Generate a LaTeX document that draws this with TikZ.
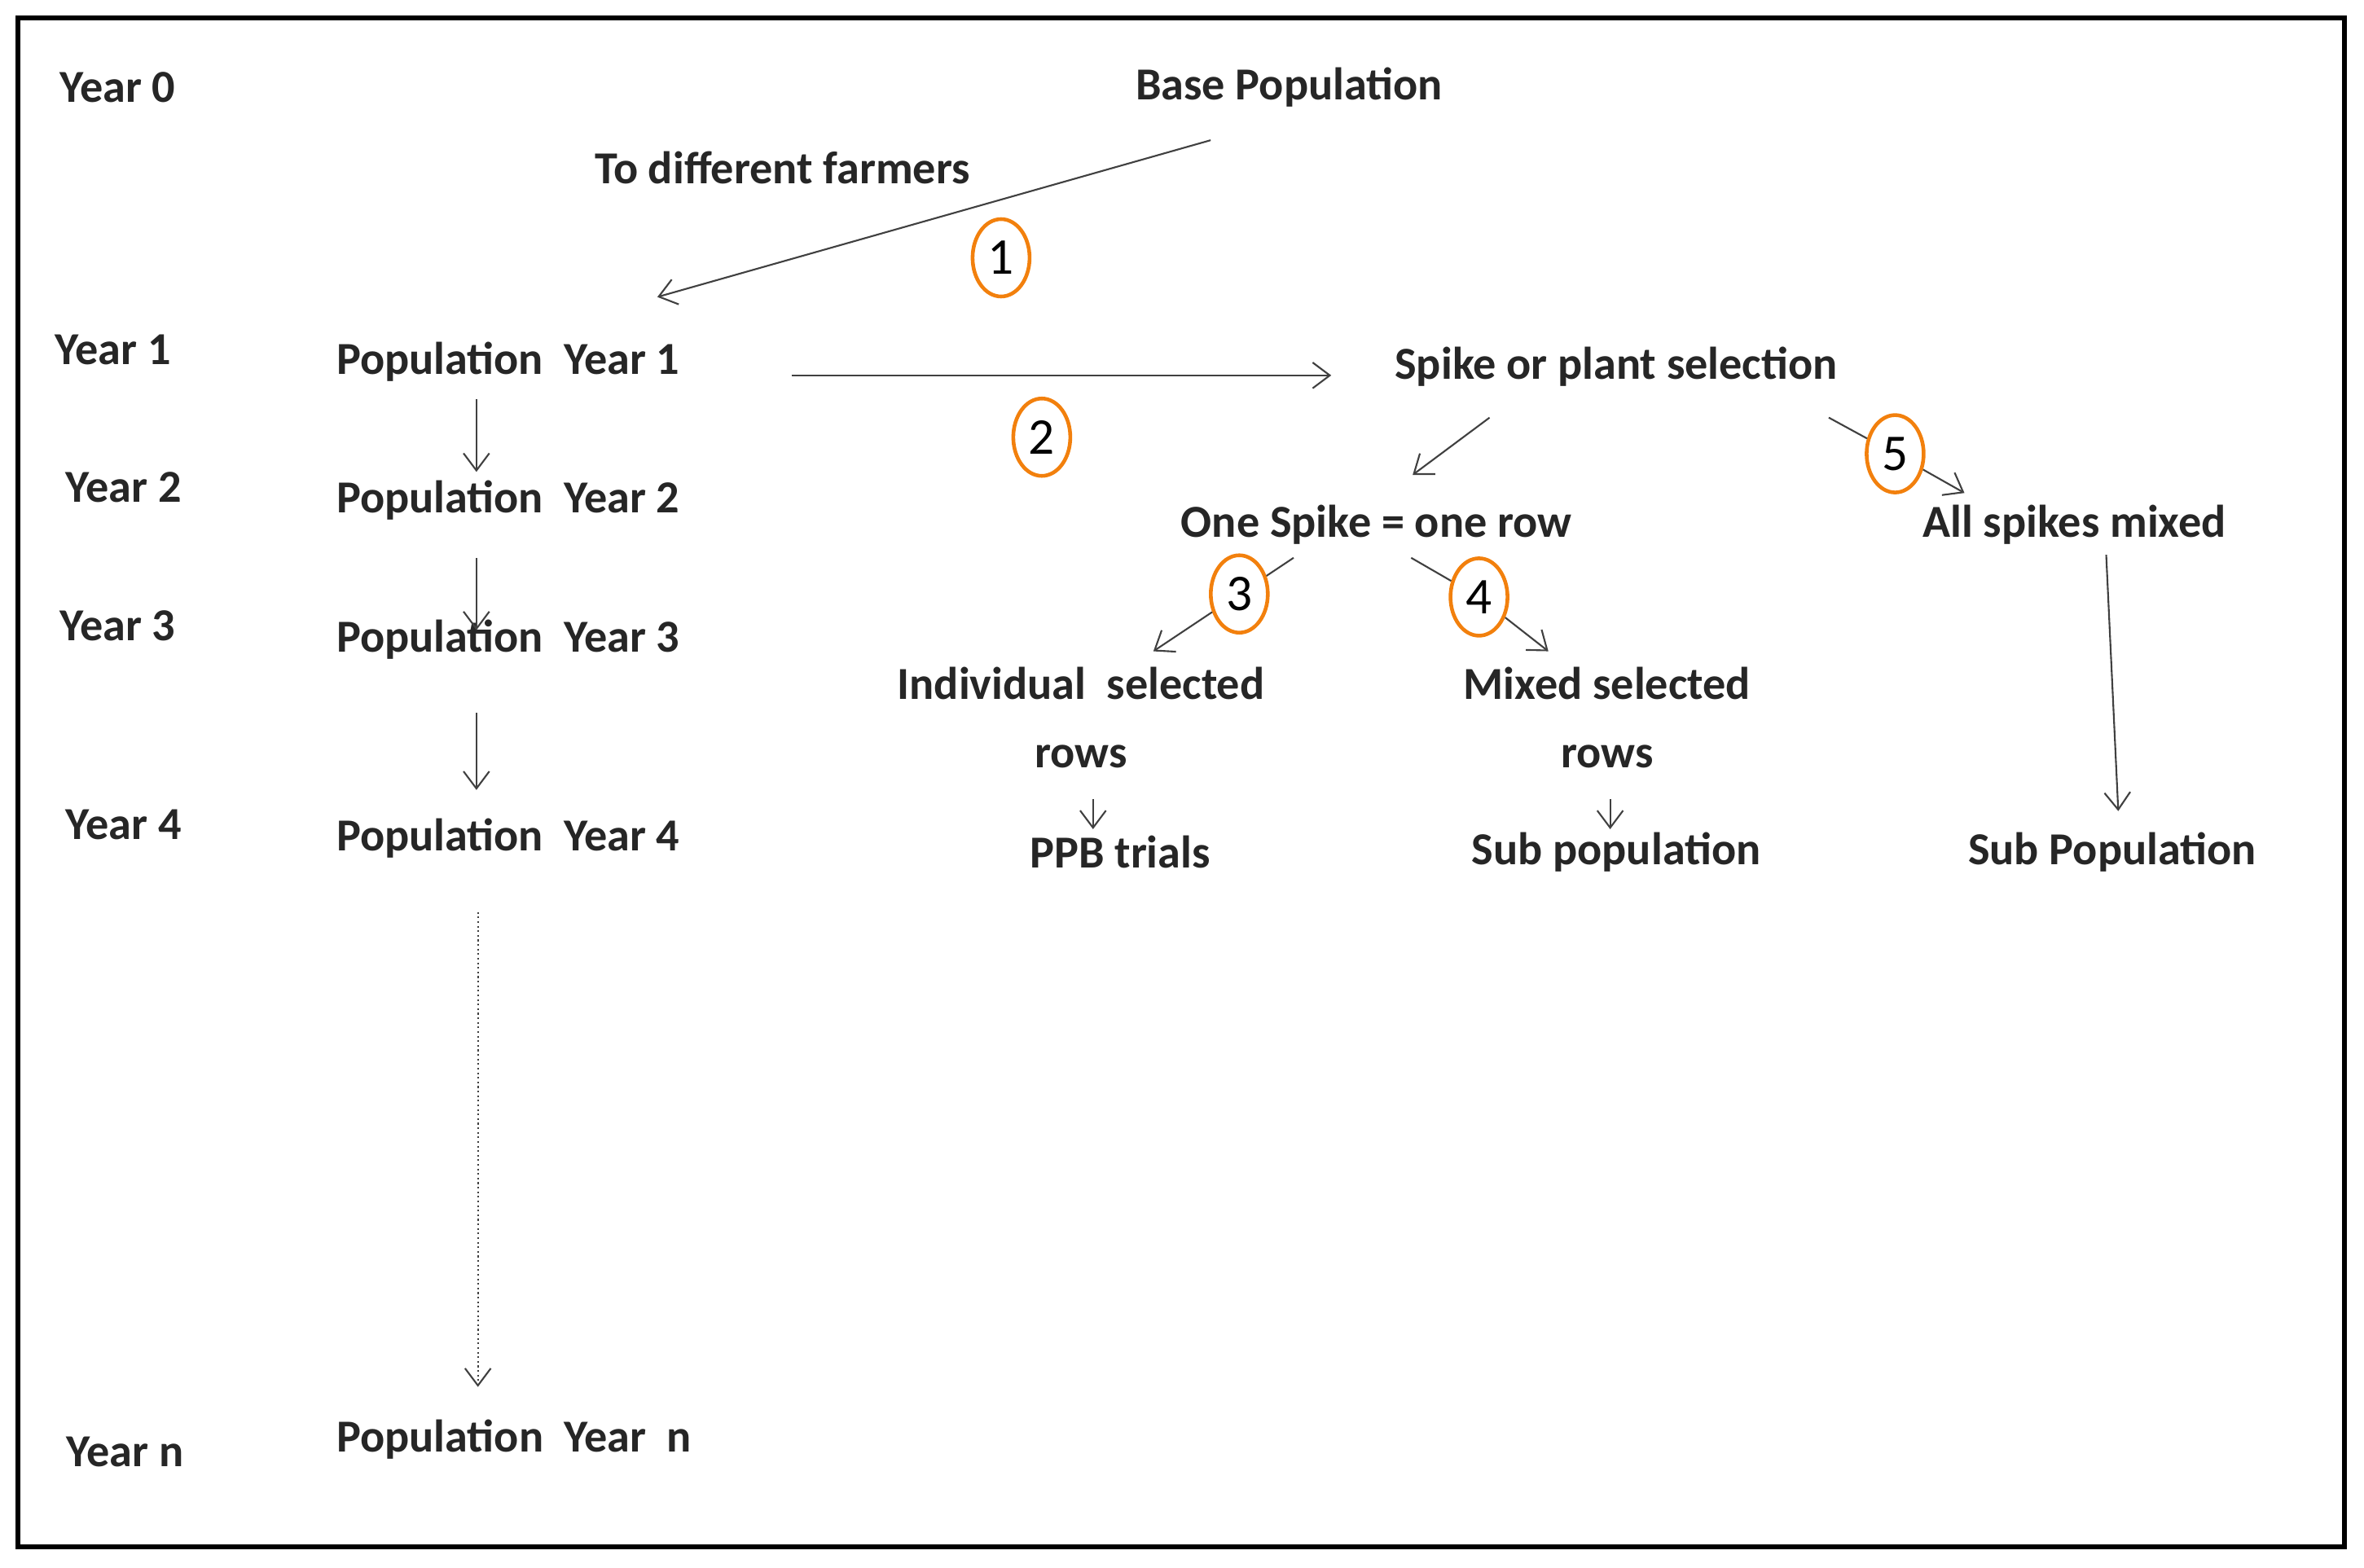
\documentclass[tikz,border=0pt]{standalone}
\usepackage{fontspec}
\setmainfont{Carlito}
\usetikzlibrary{arrows.meta}
\begin{document}
\begin{tikzpicture}[x=0.01851cm,y=-0.01851cm,
 t/.style={font=\fontsize{16}{22}\selectfont\bfseries,text=black!85,align=center,inner sep=1pt},
 ar/.style={draw=black!75,line width=0.6pt,-{Straight Barb[length=6pt,width=9pt]}},
 num/.style={draw=orange!80!brown,line width=1.3pt,ellipse,minimum width=0.7cm,minimum height=0.95cm,inner sep=0pt,font=\fontsize{18}{20}\selectfont}]
\usetikzlibrary{shapes.geometric}
\useasboundingbox (0,0) rectangle (1568,1040);
\draw[line width=1.6pt] (12,12) rectangle (1555,1026);
\node[t] (y0) at (78,58) {Year 0};
\node[t] (y1) at (75,232) {Year 1};
\node[t] (y2) at (82,323) {Year 2};
\node[t] (y3) at (78,415) {Year 3};
\node[t] (y4) at (82,547) {Year 4};
\node[t] (yn) at (83,963) {Year n};
\node[t] (p1) at (337,240) {Population\ \ Year 1};
\node[t] (p2) at (337,332) {Population\ \ Year 2};
\node[t] (p3) at (337,424) {Population\ \ Year 3};
\node[t] (p4) at (337,556) {Population\ \ Year 4};
\node[t] (pn) at (341,955) {Population\ \ Year\ \ n};
\node[t] (base) at (855,58) {Base Population};
\node[t] (farm) at (519,111) {To different farmers};
\node[t] (spike) at (1072,243) {Spike or plant selection};
\node[t] (one) at (913,348) {One Spike = one row};
\node[t] (all) at (1376,348) {All spikes mixed};
\node[t] (ind) at (717,476) {Individual\ \ selected\\[2pt]rows};
\node[t] (mix) at (1066,476) {Mixed selected\\[2pt]rows};
\node[t] (ppb) at (743,565) {PPB trials};
\node[t] (sub1) at (1072,565) {Sub population};
\node[t] (sub2) at (1401,565) {Sub Population};
\node[num] (n1) at (664,171) {1};
\node[num] (n2) at (691,290) {2};
\node[num] (n3) at (822,394) {3};
\node[num] (n4) at (981,396) {4};
\node[num] (n5) at (1257,301) {5};
\coordinate (a1s) at (803,93); \coordinate (a1e) at (436,197);
\coordinate (a2s) at (525,249); \coordinate (a2e) at (883,249);
\coordinate (a3s) at (988,277); \coordinate (a3e) at (937,315);
\coordinate (a5s) at (1213,277); \coordinate (a5e) at (1303,327);
\coordinate (b3s) at (858,370); \coordinate (b3e) at (765,432);
\coordinate (b4s) at (936,370); \coordinate (b4e) at (1027,432);
\coordinate (c1s) at (725,530); \coordinate (c1e) at (725,550);
\coordinate (c2s) at (1068,530); \coordinate (c2e) at (1068,550);
\coordinate (ds) at (1397,368); \coordinate (de) at (1405,538);
\coordinate (v1s) at (316,265); \coordinate (v1e) at (316,313);
\coordinate (v2s) at (316,370); \coordinate (v2e) at (316,418);
\coordinate (v3s) at (316,473); \coordinate (v3e) at (316,524);
\coordinate (v4s) at (317,605); \coordinate (v4e) at (317,920);
\draw[ar] (a1s) -- (a1e);
\draw[ar] (a2s) -- (a2e);
\draw[ar] (a3s) -- (a3e);
\draw[ar] (a5s) -- (n5) -- (a5e);
\draw[ar] (b3s) -- (n3) -- (b3e);
\draw[ar] (b4s) -- (n4) -- (b4e);
\draw[ar] (c1s) -- (c1e);
\draw[ar] (c2s) -- (c2e);
\draw[ar] (ds) -- (de);
\draw[ar] (v1s) -- (v1e);
\draw[ar] (v2s) -- (v2e);
\draw[ar] (v3s) -- (v3e);
\draw[ar,densely dotted] (v4s) -- (v4e);
\end{tikzpicture}
\end{document}
